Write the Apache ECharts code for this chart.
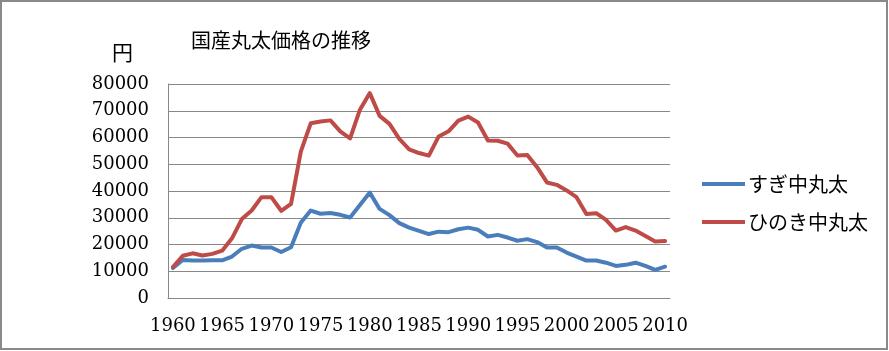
<!DOCTYPE html>
<html>
<head>
<meta charset="utf-8">
<script src="https://cdn.jsdelivr.net/npm/echarts@6/dist/echarts.min.js"></script>
<style>html,body{margin:0;padding:0;background:#fff}#c{width:889px;height:351px}</style>
</head>
<body>
<div id="c"></div>
<script>
const years = [];
for (let y = 1960; y <= 2010; y++) years.push(String(y));
const sugi = [11200,14200,14000,14000,14100,14100,15500,18400,19600,18900,18900,17200,19000,28200,32700,31500,31800,31100,30100,34800,39400,33300,31000,28000,26300,25100,23900,24800,24600,25700,26300,25500,23000,23600,22600,21400,22000,20900,18900,18900,17000,15500,14000,14000,13200,12000,12400,13200,12000,10500,11700];
const hinoki = [11600,15800,16700,15900,16500,17700,22300,29500,32700,37700,37700,32600,35200,54800,65300,66000,66400,62300,59700,70400,76600,68100,65100,59500,55600,54200,53200,60400,62300,66300,67800,65600,58900,58800,57700,53300,53500,48900,43200,42300,40200,37700,31400,31700,29200,25200,26500,25200,23200,21100,21300];
const yTicks = [0,10000,20000,30000,40000,50000,60000,70000,80000];
const seriesNames = ['すぎ中丸太','ひのき中丸太'];
const titleText = '国産丸太価格の推移';
const unitText = '円';

const cjk = '"Noto Sans CJK JP", sans-serif';
const serif = '"DejaVu Serif", serif';
const chart = echarts.init(document.getElementById('c'), null, {renderer:'canvas'});
chart.setOption({
  animation: false,
  backgroundColor: '#fff',
  title: {
    text: titleText, left: 186, top: 25,
    textStyle: {fontFamily: cjk, fontSize: 20, fontWeight: 'normal', color: '#000'}
  },
  graphic: [
    {type:'rect', shape:{x:1,y:1,width:886,height:348}, style:{fill:'none', stroke:'#898989', lineWidth:2}, silent:true},
    {type:'text', left: 112, top: 42, style:{text: unitText, font: '21px ' + cjk, fill:'#000'}}
  ],
  legend: {
    orient: 'vertical', left: 697, top: 169,
    itemWidth: 43, itemHeight: 4, itemGap: 18,
    icon: 'rect',
    textStyle: {fontFamily: cjk, fontSize: 20, color: '#000', padding:[0,0,0,-2], lineHeight: 20},
    data: seriesNames
  },
  grid: {left: 168, right: 219, top: 84, bottom: 53},
  xAxis: {
    type: 'category', data: years, boundaryGap: true,
    axisLine: {show: true, lineStyle: {color: '#888', width: 1}},
    axisTick: {show: false},
    axisLabel: {interval: 4, margin: 19, fontFamily: serif, fontSize: 18, color: '#000'}
  },
  yAxis: {
    type: 'value', min: 0, max: 80000, interval: 10000,
    axisLine: {show: true, lineStyle: {color: '#888', width: 1}},
    axisTick: {show: false},
    splitLine: {lineStyle: {color: '#888', width: 1}},
    axisLabel: {margin: 19, fontFamily: serif, fontSize: 18, color: '#000',
      formatter: v => yTicks.includes(v) ? String(v) : ''}
  },
  series: [
    {name: seriesNames[0], type: 'line', data: sugi, showSymbol: false, symbol: 'none',
     lineStyle: {color: '#4A7EBB', width: 4, cap: 'round', join: 'round'}, itemStyle: {color: '#4A7EBB'}},
    {name: seriesNames[1], type: 'line', data: hinoki, showSymbol: false, symbol: 'none',
     lineStyle: {color: '#BE4B48', width: 4, cap: 'round', join: 'round'}, itemStyle: {color: '#BE4B48'}}
  ]
});
</script>
</body>
</html>
